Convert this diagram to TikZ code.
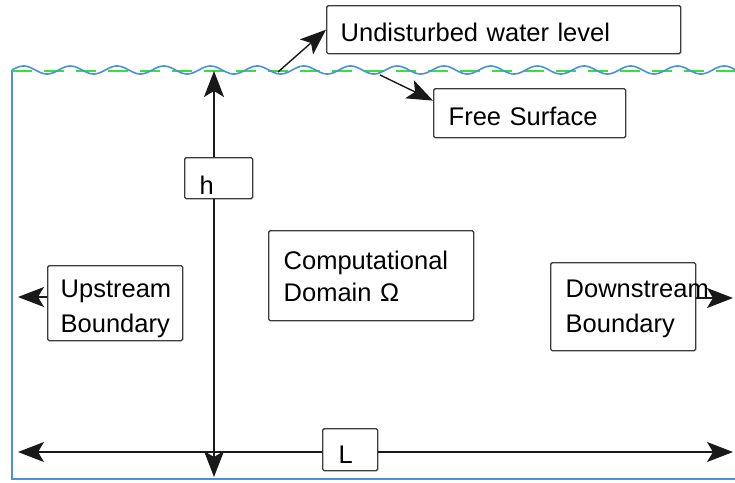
\documentclass[tikz,border=0pt]{standalone}
\usepackage{fontspec}
\setmainfont{Liberation Sans}
\usetikzlibrary{arrows.meta,calc}
\definecolor{wblue}{RGB}{74,146,217}
\definecolor{wgreen}{RGB}{60,222,60}
\definecolor{boxgray}{RGB}{60,60,60}
\definecolor{linek}{RGB}{25,25,25}
\begin{document}
\begin{tikzpicture}[x=1pt,y=-1pt,
  lbl/.style={draw=boxgray, line width=1.4pt, fill=white, anchor=north west,
    align=left, inner ysep=0pt, rounded corners=1.5pt,
    font=\fontsize{25.5}{34.5}\selectfont},
  arr/.style={draw=linek, line width=1.4pt,
    -{Stealth[length=26pt,width=20pt,inset=6pt]}},
  wall/.style={draw=wblue, line width=1.8pt}
]
\useasboundingbox (0,0) rectangle (735,482);
\begin{scope}
\clip (0,0) rectangle (735,482);
% domain walls
\draw[wall] (12,70) -- (12,479) -- (740,479);
% undisturbed level (dashed green)
\draw[draw=wgreen, line width=2pt, dash pattern=on 20pt off 12pt] (12,70.5) -- (740,70.5);
% free surface wave
\draw[draw=wblue, line width=1.6pt] plot[domain=12:740, samples=400, smooth]
  (\x, {70-4*sin(7.7088*(\x-12))});
\end{scope}

% coordinates
\coordinate (htop) at (214,71);
\coordinate (hbot) at (214,477);
\coordinate (lleft) at (18,452);
\coordinate (lright) at (733,452);
\coordinate (uparr) at (18,297);
\coordinate (dnarr) at (733,298);
\coordinate (w1) at (278,72);
\coordinate (w2) at (380,75);

% nodes
\node[lbl, minimum height=48pt, text width=326pt, inner xsep=14pt,
  text height=23.4pt, text depth=0pt] (und) at (326,5) {Undisturbed water level};
\node[lbl, minimum height=49pt, text width=162pt, inner xsep=15pt,
  text height=25pt, text depth=0pt] (fs) at (433,88) {Free Surface};
\node[lbl, minimum height=90pt, text width=175pt, inner xsep=15pt,
  font=\fontsize{25.5}{32}\selectfont,
  text height=18pt, text depth=30pt] (cd) at (268,230) {Computational\\Domain Ω};
\node[lbl, minimum height=75pt, text width=109pt, inner xsep=13pt,
  text height=18pt, text depth=29pt] (up) at (47,265) {Upstream\\Boundary};
\node[lbl, minimum height=88pt, text width=115pt, inner xsep=15pt,
  text height=18pt, text depth=36pt] (dn) at (550,262) {Downstream\\Boundary};
\node[lbl, minimum height=41pt, text width=38pt, inner xsep=15pt,
  text height=31.6pt, text depth=0pt] (h) at (184,157) {h};
\node[lbl, minimum height=42pt, text width=23pt, inner xsep=16pt,
  text height=28pt, text depth=0pt] (L) at (322,428) {L};

% connectors
\draw[arr] (h.north -| htop) -- (htop);
\draw[arr] (h.south -| hbot) -- (hbot);
\draw[arr] (L.west |- lleft) -- (lleft);
\draw[arr] (L.east |- lright) -- (lright);
\draw[arr] (up.west |- uparr) -- (uparr);
\draw[arr] (dn.east |- dnarr) -- (dnarr);
\draw[arr] (w1) -- (und.west);
\draw[arr] (w2) -- ($(fs.north west)!0.25!(fs.south west)$);
\end{tikzpicture}
\end{document}
